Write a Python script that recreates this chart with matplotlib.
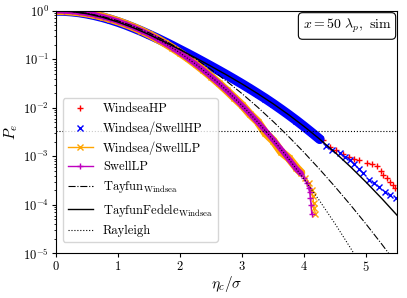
import matplotlib
matplotlib.use("Agg")
import matplotlib.pyplot as plt

plt.rcParams['font.family'] = 'serif'
plt.rcParams['font.serif'] = ['cmr10', 'DejaVu Serif']
plt.rcParams['mathtext.fontset'] = 'cm'
plt.rcParams['axes.formatter.use_mathtext'] = True

# crest height / sigma, dense part of the empirical curves
eta_head = [0.0, 0.125, 0.25, 0.375, 0.5, 0.625, 0.75, 0.875, 1.0, 1.125, 1.25,
            1.375, 1.5, 1.625, 1.75, 1.875, 2.0, 2.125, 2.25, 2.375, 2.5, 2.625,
            2.75, 2.875, 3.0, 3.125, 3.25, 3.375, 3.5, 3.625, 3.75, 3.875]

# high-pass (HP) exceedance probability
pe_hp_head = [1.0, 0.991, 0.965, 0.925, 0.8695, 0.805, 0.7348, 0.661, 0.586, 0.514,
              0.444, 0.381, 0.323, 0.273, 0.228, 0.190, 0.157, 0.130, 0.107, 0.0877,
              0.0717, 0.0585, 0.0475, 0.0384, 0.0309, 0.0247, 0.0196, 0.0155, 0.0121,
              0.00935, 0.00718, 0.00546]

windsea_hp_tail_x = [4.0, 4.125, 4.25, 4.30, 4.41, 4.52, 4.62, 4.72, 4.81, 4.89, 5.01,
                     5.09, 5.17, 5.23, 5.27, 5.33, 5.38, 5.43, 5.46]
windsea_hp_tail_p = [0.0041, 0.00305, 0.00225, 2.14e-3, 1.58e-3, 1.32e-3, 1.12e-3, 9.8e-4,
                     8.9e-4, 8.3e-4, 7.2e-4, 6.8e-4, 6.2e-4, 5.0e-4, 4.1e-4, 3.5e-4,
                     3.0e-4, 2.6e-4, 2.2e-4]

mixed_hp_tail_x = [4.0, 4.125, 4.25, 4.35, 4.45, 4.57, 4.65, 4.73, 4.80, 4.88, 4.95,
                   5.05, 5.13, 5.21, 5.30, 5.39, 5.48]
mixed_hp_tail_p = [0.0041, 0.00305, 0.00225, 1.66e-3, 1.35e-3, 1.15e-3, 9.8e-4, 8.3e-4,
                   6.9e-4, 5.5e-4, 4.5e-4, 3.2e-4, 2.75e-4, 2.3e-4, 1.86e-4, 1.62e-4,
                   1.41e-4]

# low-pass (LP) exceedance probability
pe_swell_lp_head = [1.0, 0.992, 0.969, 0.932, 0.882, 0.823, 0.755, 0.682, 0.607, 0.531,
                    0.458, 0.389, 0.325, 0.267, 0.216, 0.172, 0.135, 0.105, 0.0796,
                    0.0596, 0.0439, 0.0319, 0.0228, 0.0160, 0.0111, 0.00757, 0.00508,
                    0.00336, 0.00219, 0.00140, 0.00088, 0.00055]
pe_mixed_lp_head = [1.0, 0.992, 0.969, 0.932, 0.882, 0.823, 0.755, 0.682, 0.607, 0.531,
                    0.458, 0.389, 0.325, 0.267, 0.216, 0.172, 0.135, 0.105, 0.0796,
                    0.0596, 0.0439, 0.0319, 0.0228, 0.0160, 0.0113, 0.0074, 0.0052,
                    0.0030, 0.0021, 0.00125, 0.00092, 0.00058]

mixed_lp_tail_x = [3.95, 4.02, 4.08, 4.12, 4.14, 4.15, 4.16, 4.18]
mixed_lp_tail_p = [4.6e-4, 3.6e-4, 2.8e-4, 2.0e-4, 1.5e-4, 1.1e-4, 8.5e-5, 6.5e-5]

swell_lp_tail_x = [3.95, 4.0, 4.04, 4.07, 4.09, 4.10, 4.11, 4.12]
swell_lp_tail_p = [4.4e-4, 3.5e-4, 2.8e-4, 2.2e-4, 1.8e-4, 1.35e-4, 1.0e-4, 6.6e-5]

# theoretical distributions
eta_theory = [0.0, 0.25, 0.5, 0.75, 1.0, 1.25, 1.5, 1.75, 2.0, 2.25, 2.5, 2.75, 3.0,
              3.25, 3.5, 3.75, 4.0, 4.25, 4.5, 4.75, 5.0, 5.25, 5.5]
pe_tayfun = [1.0, 0.9696, 0.8851, 0.7623, 0.6207, 0.4787, 0.3502, 0.2435, 0.1612,
             0.1017, 0.0613, 0.03529, 0.01945, 0.01028, 0.005212, 0.002539, 0.001189,
             0.000536, 0.000233, 9.77e-5, 3.95e-5, 1.54e-5, 5.8e-6]
pe_fedele = [1.0, 0.9651, 0.8695, 0.7348, 0.5861, 0.4444, 0.3233, 0.2280, 0.1573,
             0.1068, 0.07171, 0.04748, 0.03088, 0.01960, 0.01207, 0.007178, 0.004103,
             0.002252, 0.001187, 0.0005994, 0.0002901, 0.0001345, 6.01e-5]
pe_rayleigh = [1.0, 0.969, 0.8825, 0.7548, 0.6065, 0.4578, 0.3247, 0.2163, 0.1353,
               0.0796, 0.0439, 0.02279, 0.01111, 0.005086, 0.002187, 0.000884,
               0.000335, 0.0001197, 4.01e-5, 1.26e-5, 3.73e-6]

threshold = 3.38e-3

ws_hp_x = eta_head + windsea_hp_tail_x
ws_hp_p = pe_hp_head + windsea_hp_tail_p
mx_hp_x = eta_head + mixed_hp_tail_x
mx_hp_p = pe_hp_head + mixed_hp_tail_p
mx_lp_x = eta_head + mixed_lp_tail_x
mx_lp_p = pe_mixed_lp_head + mixed_lp_tail_p
sw_lp_x = eta_head + swell_lp_tail_x
sw_lp_p = pe_swell_lp_head + swell_lp_tail_p

n_hp = len(eta_head) + 3
n_lp = len(eta_head) + 1

fig = plt.figure(figsize=(4.07, 2.98), dpi=100)
ax = fig.add_axes([0.1376, 0.150, 0.8386, 0.8138])

# thick bands where the markers pile up
ax.plot(ws_hp_x[:n_hp], ws_hp_p[:n_hp], color='r', lw=5, solid_capstyle='round')
ax.plot(ws_hp_x, ws_hp_p, 'r+', ms=5, mew=1, label='WindseaHP')
ax.plot(mx_hp_x[:n_hp], mx_hp_p[:n_hp], color='b', lw=7, solid_capstyle='round')
ax.plot(mx_hp_x, mx_hp_p, 'bx', ms=4.5, mew=1, label='Windsea/SwellHP')
ax.plot(mx_lp_x[:n_lp], mx_lp_p[:n_lp], color='orange', lw=6, solid_capstyle='round')
ax.plot(mx_lp_x, mx_lp_p, color='orange', marker='x', ms=4.5, mew=1, lw=1,
        label='Windsea/SwellLP')
ax.plot(sw_lp_x[:n_lp], sw_lp_p[:n_lp], color='m', lw=4, solid_capstyle='round')
ax.plot(sw_lp_x, sw_lp_p, color='m', marker='+', ms=5, mew=1, lw=1, label='SwellLP')

ax.plot(eta_theory, pe_tayfun, 'k-.', lw=0.8, label=r'Tayfun$_{\mathrm{Windsea}}$')
ax.plot(eta_theory, pe_fedele, 'k-', lw=1.0, label=r'TayfunFedele$_{\mathrm{Windsea}}$')
ax.plot(eta_theory[:len(pe_rayleigh)], pe_rayleigh, 'k:', lw=0.8, label='Rayleigh')
ax.axhline(threshold, color='k', ls=':', lw=0.8)

ax.set_yscale('log')
ax.set_xlim(0, 5.5)
ax.set_ylim(1e-5, 1)
ax.set_xlabel(r'$\eta_c/\sigma$', fontsize=11, labelpad=0)
ax.set_ylabel(r'$P_e$', fontsize=11, labelpad=2)
ax.tick_params(labelsize=9, length=3, pad=2)
ax.tick_params(which='minor', length=1.8)

ax.text(0.983, 0.975, r'$x = 50\ \lambda_p,$ sim', transform=ax.transAxes,
        ha='right', va='top', fontsize=10,
        bbox=dict(boxstyle='round,pad=0.3', fc='white', ec='black', lw=0.8))

ax.legend(loc='lower left', bbox_to_anchor=(0.02, 0.047), borderaxespad=0,
          fontsize=9)

fig.savefig('out.png', dpi=100)
